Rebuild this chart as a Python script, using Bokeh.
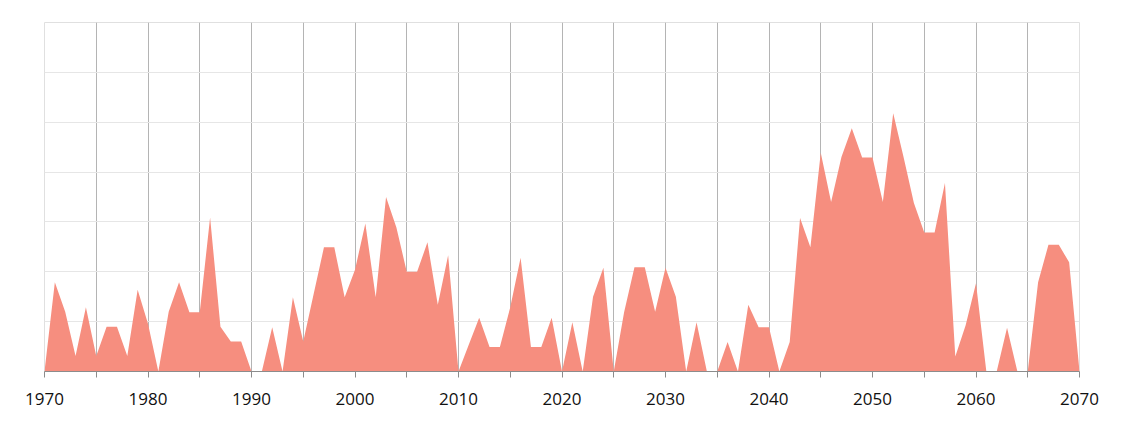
from bokeh.plotting import figure
from bokeh.models import FixedTicker, Range1d
from bokeh.embed import file_html
from bokeh.resources import INLINE

years = list(range(1970, 2071))
values = [
    0, 1.79, 1.20, 0.31, 1.29, 0.31, 0.90, 0.90, 0.31, 1.64,   # 1970-1979
    0.96, 0, 1.20, 1.79, 1.19, 1.19, 3.09, 0.90, 0.60, 0.60,   # 1980-1989
    0, 0, 0.89, 0, 1.49, 0.60, 1.55, 2.49, 2.49, 1.49,         # 1990-1999
    2.04, 2.97, 1.49, 3.50, 2.89, 2.00, 2.00, 2.59, 1.34, 2.33, # 2000-2009
    0, 0.54, 1.08, 0.49, 0.49, 1.29, 2.28, 0.49, 0.49, 1.08,   # 2010-2019
    0, 0.99, 0, 1.50, 2.08, 0, 1.19, 2.09, 2.09, 1.20,         # 2020-2029
    2.08, 1.50, 0, 0.99, 0, 0, 0.59, 0, 1.34, 0.89,            # 2030-2039
    0.89, 0, 0.59, 3.08, 2.49, 4.39, 3.40, 4.30, 4.88, 4.29,   # 2040-2049
    4.29, 3.40, 5.18, 4.30, 3.38, 2.79, 2.79, 3.78, 0.30, 0.93, # 2050-2059
    1.77, 0, 0, 0.88, 0, 0, 1.79, 2.54, 2.54, 2.19,            # 2060-2069
    0,                                                          # 2070
]
tick_years = list(range(1970, 2071, 5))
label_years = list(range(1970, 2071, 10))
y_grid = [0, 1, 2, 3, 4, 5, 6, 7]

p = figure(width=1116, height=413, output_backend="svg", toolbar_location=None,
           x_range=Range1d(1970, 2070), y_range=Range1d(0, 7),
           min_border_left=44, min_border_right=37, min_border_top=22, min_border_bottom=42)

p.varea(x=years, y1=[0] * len(years), y2=values, fill_color="#F68E7F", fill_alpha=1.0)

p.outline_line_color = "#e0e0e0"
p.outline_line_width = 1

p.xgrid.ticker = FixedTicker(ticks=[t for t in tick_years if t != 1970])
p.xgrid.grid_line_color = "#b4b4b4"
p.xgrid.grid_line_width = 1
p.ygrid.ticker = FixedTicker(ticks=y_grid)
p.ygrid.grid_line_color = "#e6e6e6"
p.ygrid.grid_line_width = 1
p.grid.level = "image"

p.yaxis.visible = False
ax = p.xaxis[0]
ax.ticker = FixedTicker(ticks=tick_years)
ax.major_label_overrides = {t: (str(t) if t in label_years else "") for t in tick_years}
ax.axis_line_color = "#8c8c8c"
ax.major_tick_line_color = "#8c8c8c"
ax.major_tick_out = 6
ax.major_tick_in = 0
ax.minor_tick_line_color = None
ax.major_label_text_font = "Open Sans"
ax.major_label_text_font_size = "17px"
ax.major_label_text_color = "#111111"
ax.major_label_standoff = 15

open("out.html", "w").write(file_html(p, INLINE))
